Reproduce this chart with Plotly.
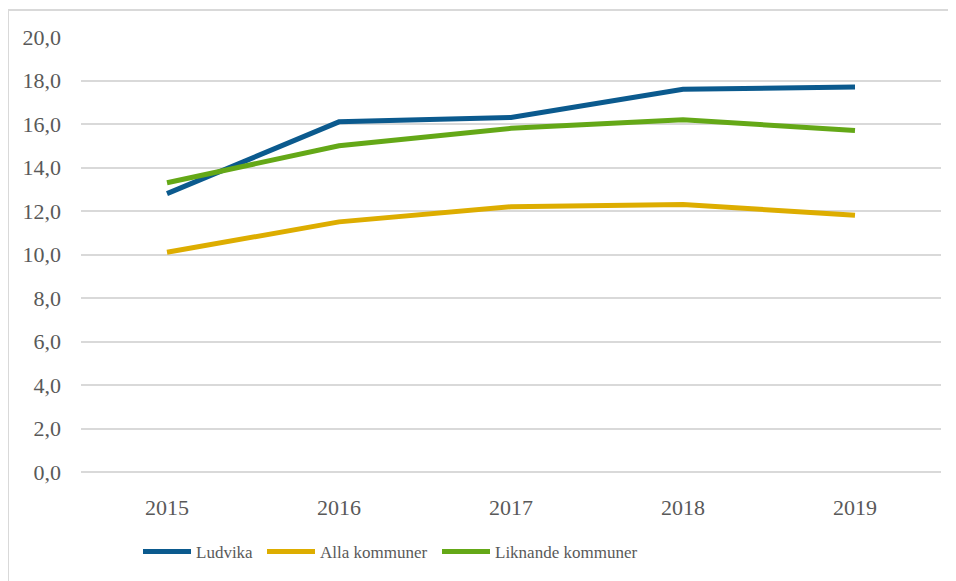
import plotly.graph_objects as go

years = ["2015", "2016", "2017", "2018", "2019"]
ludvika = [12.8, 16.1, 16.3, 17.6, 17.7]
alla = [10.1, 11.5, 12.2, 12.3, 11.8]
liknande = [13.3, 15.0, 15.8, 16.2, 15.7]
series_names = ["Ludvika", "Alla kommuner", "Liknande kommuner"]
colors = ["#0B5A8E", "#DDAD00", "#64A817"]
y_ticks = [0, 2, 4, 6, 8, 10, 12, 14, 16, 18, 20]
y_tick_labels = ["0,0", "2,0", "4,0", "6,0", "8,0", "10,0", "12,0", "14,0", "16,0", "18,0", "20,0"]

# page has an 8px body margin, so the figure is offset by 8px
OFF = 8
W, H = 956 - OFF, 581 - OFF
ml, mt = 81 - OFF, 37 - OFF
pw, ph = 860, 436
mr, mb = W - ml - pw, H - mt - ph

legend_ids = ["legend", "legend2", "legend3"]
legend_line_starts = [146, 270, 445]  # page pixels

fig = go.Figure()
for name, vals, col, lg in zip(series_names, [ludvika, alla, liknande], colors, legend_ids):
    fig.add_trace(go.Scatter(x=years, y=vals, name=name, mode="lines",
                             line=dict(color=col, width=5), legend=lg))

font_family = "Liberation Serif"

def legend_cfg(px):
    return dict(orientation="h", x=(px - 81 - 8) / pw, xanchor="left",
                y=-(552 - 473) / ph, yanchor="middle",
                font=dict(family=font_family, size=17, color="#595959"),
                itemwidth=48, bgcolor="rgba(0,0,0,0)")

fig.update_layout(
    width=W, height=H,
    margin=dict(l=ml, r=mr, t=mt, b=mb),
    paper_bgcolor="white", plot_bgcolor="white",
    font=dict(family=font_family, color="#595959"),
    showlegend=True,
    legend=legend_cfg(legend_line_starts[0]),
    legend2=legend_cfg(legend_line_starts[1]),
    legend3=legend_cfg(legend_line_starts[2]),
    xaxis=dict(type="category", range=[-0.5, 4.5], showgrid=False,
               zeroline=False, showline=False, ticks="",
               tickfont=dict(family=font_family, size=22, color="#595959"),
               ticklabelstandoff=20),
    yaxis=dict(range=[0, 20], tickvals=y_ticks, ticktext=y_tick_labels,
               showgrid=True, gridcolor="#D9D9D9", gridwidth=1.5,
               zeroline=True, zerolinecolor="#D9D9D9", zerolinewidth=1.5,
               showline=False, ticks="",
               tickfont=dict(family=font_family, size=22, color="#595959"),
               ticklabelstandoff=19),
)

bx = (-ml + 0) / pw
by = 1 + (mt - 2) / ph
fig.add_shape(type="line", xref="paper", yref="paper", x0=bx, x1=1.2, y0=by, y1=by,
              line=dict(color="#D9D9D9", width=2), layer="below")
fig.add_shape(type="line", xref="paper", yref="paper", x0=bx, x1=bx, y0=by, y1=-0.5,
              line=dict(color="#D9D9D9", width=2), layer="below")

fig.write_html("out.html")
